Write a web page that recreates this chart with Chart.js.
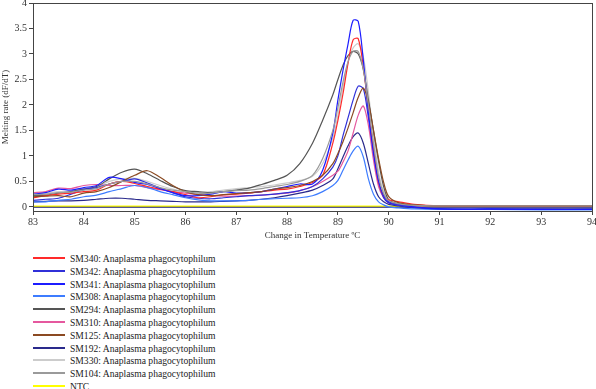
<!DOCTYPE html>
<html>
<head>
<meta charset="utf-8">
<script src="https://cdn.jsdelivr.net/npm/chart.js@4/dist/chart.umd.min.js"></script>
<style>
  html, body { margin: 0; padding: 0; background: #fff; }
  #wrap { position: relative; width: 596px; height: 389px; overflow: hidden; }
  #chartBox { position: absolute; left: 0; top: 0; width: 596px; height: 245px; }
  #legend { position: absolute; left: 33px; top: 252px; width: 400px; height: 137px; font-family: "Liberation Serif", serif; font-size: 9.6px; color: #222; }
  .row { position: absolute; left: 0; height: 12px; display: flex; align-items: center; white-space: nowrap; }
  .sw { width: 32px; height: 2px; margin-right: 5px; }
</style>
</head>
<body>
<div id="wrap">
  <div id="chartBox"><canvas id="c"></canvas></div>
  <div id="legend"></div>
</div>
<script>
// Temperatures (°C) shared by all series
const temps = [83, 83.25, 83.5, 83.75, 84, 84.25, 84.5, 84.75, 85, 85.25, 85.5, 85.75, 86, 86.25, 86.5, 86.75, 87, 87.25, 87.5, 87.75, 88, 88.25, 88.5, 88.7, 88.9, 89.0, 89.1, 89.2, 89.3, 89.4, 89.5, 89.6, 89.7, 89.8, 89.9, 90, 90.2, 90.5, 91, 92, 93, 94];

const seriesNames = [
  "SM340: Anaplasma phagocytophilum",
  "SM342: Anaplasma phagocytophilum",
  "SM341: Anaplasma phagocytophilum",
  "SM308: Anaplasma phagocytophilum",
  "SM294: Anaplasma phagocytophilum",
  "SM310: Anaplasma phagocytophilum",
  "SM125: Anaplasma phagocytophilum",
  "SM192: Anaplasma phagocytophilum",
  "SM330: Anaplasma phagocytophilum",
  "SM104: Anaplasma phagocytophilum",
  "NTC"
];
const seriesColors = ["#ff2a2a", "#3030d8", "#1c1cff", "#3d7cff", "#555555", "#e5589e", "#8b4a22", "#2a2a8c", "#cccccc", "#9a9a9a", "#ffff00"];

const sm340 = [0.18, 0.22, 0.25, 0.27, 0.30, 0.33, 0.45, 0.50, 0.46, 0.40, 0.35, 0.30, 0.24, 0.18, 0.20, 0.24, 0.25, 0.27, 0.30, 0.33, 0.35, 0.40, 0.48, 0.62, 1.25, 1.70, 2.22, 2.82, 3.28, 3.30, 2.75, 1.90, 1.10, 0.48, 0.22, 0.14, 0.10, 0.05, 0.02, 0.02, 0.02, 0.02];
const sm342 = [0.13, 0.15, 0.17, 0.25, 0.34, 0.38, 0.45, 0.50, 0.55, 0.47, 0.37, 0.28, 0.20, 0.17, 0.16, 0.18, 0.20, 0.22, 0.23, 0.25, 0.28, 0.32, 0.40, 0.55, 0.78, 1.00, 1.40, 1.75, 2.10, 2.37, 2.32, 1.75, 1.12, 0.50, 0.18, 0.08, 0.03, -0.01, -0.04, -0.05, -0.05, -0.05];
const sm341 = [0.25, 0.28, 0.35, 0.33, 0.38, 0.42, 0.58, 0.55, 0.48, 0.44, 0.36, 0.28, 0.22, 0.22, 0.25, 0.30, 0.27, 0.28, 0.30, 0.35, 0.40, 0.45, 0.45, 0.72, 1.45, 2.10, 2.68, 3.20, 3.66, 3.64, 2.88, 1.85, 1.05, 0.50, 0.22, 0.10, 0.05, 0.00, -0.04, -0.04, -0.05, -0.05];
const sm308 = [0.10, 0.10, 0.13, 0.15, 0.20, 0.23, 0.30, 0.36, 0.42, 0.38, 0.30, 0.24, 0.18, 0.14, 0.12, 0.12, 0.12, 0.13, 0.15, 0.16, 0.17, 0.18, 0.22, 0.30, 0.42, 0.52, 0.72, 0.92, 1.10, 1.19, 0.98, 0.55, 0.25, 0.10, 0.04, 0.00, -0.02, -0.04, -0.05, -0.05, -0.06, -0.06];
const sm294 = [0.22, 0.23, 0.27, 0.30, 0.35, 0.40, 0.55, 0.68, 0.74, 0.65, 0.52, 0.40, 0.32, 0.30, 0.28, 0.30, 0.33, 0.37, 0.44, 0.52, 0.62, 0.85, 1.25, 1.70, 2.20, 2.50, 2.78, 2.97, 3.05, 3.00, 2.70, 2.10, 1.50, 0.90, 0.40, 0.14, 0.06, 0.03, 0.02, 0.02, 0.02, 0.02];
const sm310 = [0.28, 0.30, 0.37, 0.36, 0.42, 0.44, 0.42, 0.42, 0.42, 0.38, 0.34, 0.30, 0.27, 0.24, 0.22, 0.21, 0.21, 0.22, 0.23, 0.25, 0.27, 0.32, 0.40, 0.50, 0.62, 0.70, 0.88, 1.10, 1.45, 1.80, 1.98, 1.60, 0.92, 0.40, 0.18, 0.08, 0.04, 0.02, 0.02, 0.02, 0.02, 0.02];
const sm125 = [0.20, 0.21, 0.22, 0.20, 0.27, 0.30, 0.38, 0.50, 0.62, 0.71, 0.58, 0.42, 0.30, 0.24, 0.22, 0.24, 0.26, 0.28, 0.30, 0.35, 0.38, 0.42, 0.50, 0.62, 0.85, 1.05, 1.28, 1.55, 1.85, 2.15, 2.33, 2.05, 1.50, 0.95, 0.48, 0.20, 0.08, 0.04, 0.02, 0.02, 0.02, 0.02];
const sm192 = [0.10, 0.11, 0.12, 0.12, 0.13, 0.15, 0.17, 0.17, 0.15, 0.13, 0.12, 0.11, 0.10, 0.10, 0.10, 0.11, 0.12, 0.13, 0.15, 0.18, 0.22, 0.27, 0.33, 0.42, 0.55, 0.75, 0.98, 1.20, 1.38, 1.45, 1.25, 0.85, 0.45, 0.20, 0.10, 0.05, 0.02, -0.02, -0.04, -0.04, -0.04, -0.04];
const sm330 = [0.26, 0.27, 0.30, 0.30, 0.36, 0.40, 0.50, 0.55, 0.56, 0.50, 0.42, 0.35, 0.30, 0.28, 0.30, 0.33, 0.36, 0.38, 0.40, 0.43, 0.47, 0.52, 0.60, 0.85, 1.35, 1.80, 2.35, 2.85, 3.12, 3.20, 2.95, 2.25, 1.40, 0.70, 0.30, 0.13, 0.06, 0.03, 0.02, 0.02, 0.02, 0.02];
const sm104 = [0.24, 0.25, 0.28, 0.29, 0.33, 0.36, 0.45, 0.50, 0.50, 0.45, 0.38, 0.33, 0.30, 0.27, 0.27, 0.30, 0.32, 0.33, 0.36, 0.40, 0.44, 0.50, 0.62, 0.95, 1.50, 1.95, 2.45, 2.85, 3.05, 3.05, 2.70, 2.00, 1.25, 0.60, 0.26, 0.12, 0.06, 0.03, 0.02, 0.02, 0.02, 0.02];
const ntc = [0.015, 0.015, 0.015, 0.015, 0.015, 0.015, 0.015, 0.015, 0.015, 0.015, 0.015, 0.015, 0.015, 0.015, 0.015, 0.015, 0.015, 0.015, 0.015, 0.015, 0.015, 0.015, 0.015, 0.015, 0.015, 0.015, 0.015, 0.015, 0.015, 0.015, 0.015, 0.015, 0.015, 0.015, 0.015, 0.015, 0.015, 0.015, 0.015, 0.015, 0.015, 0.015];

const seriesValues = [sm340, sm342, sm341, sm308, sm294, sm310, sm125, sm192, sm330, sm104, ntc];

const xTicks = [83, 84, 85, 86, 87, 88, 89, 90, 91, 92, 93, 94];
const yTicks = [0, 0.5, 1, 1.5, 2, 2.5, 3, 3.5, 4];

const xTitle = "Change in Temperature ºC";
const yTitle = "Melting rate (dF/dT)";

// draw order: put NTC at the back
const drawOrder = [3, 4, 2, 6, 5, 7, 1, 8, 9, 0, 10];

const datasets = seriesNames.map((name, i) => ({
  label: name,
  data: temps.map((t, k) => ({ x: t, y: seriesValues[i][k] })),
  borderColor: seriesColors[i],
  backgroundColor: seriesColors[i],
  borderWidth: 1.2,
  pointRadius: 0,
  tension: 0.3,
  fill: false,
  order: drawOrder[i]
}));

const serif = "'Liberation Serif', 'DejaVu Serif', serif";

const frame = {
  id: 'frame',
  beforeDatasetsDraw(chart) {
    const { ctx, chartArea: a, scales } = chart;
    const y0 = scales.y.getPixelForValue(0);
    ctx.save();
    ctx.strokeStyle = '#1c1c70';
    ctx.lineWidth = 1.6;
    ctx.beginPath();
    ctx.moveTo(a.left, y0);
    ctx.lineTo(a.right, y0);
    ctx.stroke();
    ctx.restore();
  },
  afterDraw(chart) {
    const { ctx, chartArea: a } = chart;
    ctx.save();
    ctx.strokeStyle = '#444';
    ctx.lineWidth = 1;
    ctx.strokeRect(Math.round(a.left) + 0.5, Math.round(a.top) + 0.5, Math.round(a.right - a.left), Math.round(a.bottom - a.top));
    ctx.restore();
  }
};

new Chart(document.getElementById('c'), {
  type: 'line',
  data: { datasets },
  plugins: [frame],
  options: {
    responsive: true,
    maintainAspectRatio: false,
    animation: false,
    layout: { padding: { top: 3, right: 4, left: 0, bottom: 0 } },
    plugins: { legend: { display: false }, tooltip: { enabled: false } },
    scales: {
      x: {
        type: 'linear', min: 83, max: 94,
        afterBuildTicks(s) { s.ticks = xTicks.map(v => ({ value: v })); },
        afterFit(s) { s.height = 34; s.paddingLeft = 0; s.paddingRight = 0; },
        grid: { display: true, drawOnChartArea: false, drawTicks: true, tickLength: 4, color: '#444' },
        border: { display: true, color: '#444' },
        ticks: { font: { family: serif, size: 10 }, color: '#333', padding: 1, maxRotation: 0, autoSkip: false, callback: v => String(v) },
        title: { display: true, text: xTitle, font: { family: serif, size: 9 }, color: '#333', padding: { top: 2, bottom: 4 } }
      },
      y: {
        type: 'linear', min: -0.08, max: 4,
        afterBuildTicks(s) { s.ticks = yTicks.map(v => ({ value: v })); },
        afterFit(s) { s.width = 33; s.paddingTop = 0; s.paddingBottom = 0; },
        grid: { display: true, drawOnChartArea: false, drawTicks: true, tickLength: 4, color: '#444' },
        border: { display: true, color: '#444' },
        ticks: { font: { family: serif, size: 10 }, color: '#333', padding: 2, callback: v => String(v) },
        title: { display: true, text: yTitle, font: { family: serif, size: 9 }, color: '#333', padding: { top: 0, bottom: 0 } }
      }
    }
  }
});

// HTML legend built from the same arrays
const legend = document.getElementById('legend');
seriesNames.forEach((name, i) => {
  const row = document.createElement('div');
  row.className = 'row';
  row.style.top = Math.round(i * 12.8) + 'px';
  const sw = document.createElement('span');
  sw.className = 'sw';
  sw.style.background = seriesColors[i];
  const tx = document.createElement('span');
  tx.textContent = name;
  row.appendChild(sw);
  row.appendChild(tx);
  legend.appendChild(row);
});
</script>
</body>
</html>
